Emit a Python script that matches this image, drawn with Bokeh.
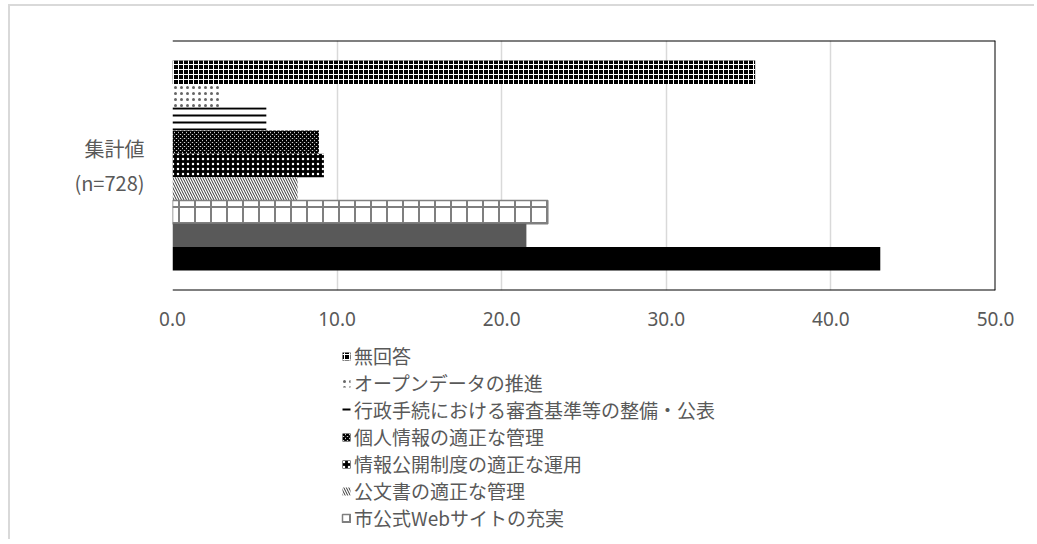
from bokeh.plotting import figure
from bokeh.layouts import column
from bokeh.models import Range1d, FixedTicker, Legend, LegendItem, Span, ColumnDataSource, CustomJSTickFormatter
from bokeh.embed import file_html
from bokeh.resources import INLINE

category_label = "集計値\n(n=728)"
series_names = ["無回答", "オープンデータの推進", "行政手続における審査基準等の整備・公表",
                "個人情報の適正な管理", "情報公開制度の適正な運用", "公文書の適正な管理",
                "市公式Webサイトの充実", "", ""]
values = [35.4, 3.0, 5.7, 8.9, 9.2, 7.6, 22.8, 21.5, 43.0]
x_ticks = [0, 10, 20, 30, 40, 50]

styles = [
    dict(fill_color="black", hatch_pattern="cross", hatch_color="white", hatch_scale=5, hatch_weight=1, line_color=None),
    dict(fill_color="white", hatch_pattern="dot", hatch_color="black", hatch_scale=6, hatch_weight=1, hatch_alpha=0.6, line_color=None),
    dict(fill_color="white", hatch_pattern="horizontal_line", hatch_color="black", hatch_scale=7, hatch_weight=2, line_color=None),
    dict(fill_color="white", hatch_pattern="diagonal_cross", hatch_color="black", hatch_scale=4, hatch_weight=2, line_color=None),
    dict(fill_color="black", hatch_pattern="dot", hatch_color="white", hatch_scale=5, hatch_weight=1, line_color=None),
    dict(fill_color="white", hatch_pattern="left_diagonal_line", hatch_color="#333333", hatch_scale=5, hatch_weight=1, line_color=None),
    dict(fill_color="white", hatch_pattern="cross", hatch_color="#7f7f7f", hatch_scale=16, hatch_weight=2, line_color="#7f7f7f", line_width=1.5),
    dict(fill_color="#595959", line_color=None),
    dict(fill_color="black", line_color=None),
]

n = len(values)
pad = 0.86
p = figure(width=1024, height=329, output_backend="svg", toolbar_location=None,
           x_range=Range1d(0, 50), y_range=Range1d(n - 0.5 + pad, -0.5 - pad),
           min_border_left=162, min_border_right=39, min_border_top=34, min_border_bottom=45)
p.background_fill_color = "white"
p.border_fill_color = "white"
p.outline_line_color = None

for i, (v, st) in enumerate(zip(values, styles)):
    src = ColumnDataSource(dict(y=[i], right=[v]))
    p.hbar(y="y", left=0, right="right", height=1.0, source=src, **st)

p.xaxis.ticker = FixedTicker(ticks=x_ticks)
p.xaxis.formatter = CustomJSTickFormatter(code="return tick.toFixed(1);")
p.xaxis.axis_line_color = None
p.xaxis.major_tick_line_color = None
p.xaxis.minor_tick_line_color = None
p.xaxis.major_label_text_font = "Noto Sans"
p.xaxis.major_label_text_font_size = "19px"
p.xaxis.major_label_text_color = "#595959"
p.xaxis.major_label_standoff = 15

mid = (n - 1) / 2
p.yaxis.ticker = FixedTicker(ticks=[mid])
p.yaxis.major_label_overrides = {mid: category_label}
p.yaxis.axis_line_color = None
p.yaxis.major_tick_line_color = None
p.yaxis.minor_tick_line_color = None
p.yaxis.major_label_text_font = "Noto Sans CJK JP"
p.yaxis.major_label_text_font_size = "20px"
p.yaxis.major_label_text_color = "#595959"
p.yaxis.major_label_text_align = "center"
p.yaxis.major_label_standoff = 22

p.xgrid.ticker = FixedTicker(ticks=x_ticks)
p.xgrid.grid_line_color = "#d9d9d9"
p.xgrid.grid_line_width = 1.5
p.ygrid.grid_line_color = None

p.add_layout(Span(location=50, dimension="height", line_color="black", line_width=2))
p.add_layout(Span(location=n - 0.5 + pad, dimension="width", line_color="black", line_width=2))
p.add_layout(Span(location=-0.5 - pad, dimension="width", line_color="black", line_width=2))

# legend panel: swatch renderers share the bar styles; their bars have zero size
q = figure(width=1024, height=204, output_backend="svg", toolbar_location=None,
           x_range=Range1d(0, 1), y_range=Range1d(0, 1), x_axis_type=None, y_axis_type=None,
           min_border_left=0, min_border_right=0, min_border_top=0, min_border_bottom=0)
q.outline_line_color = None
q.background_fill_color = "white"
q.border_fill_color = "white"
q.grid.visible = False
legend_renderers = []
for st in styles[:7]:
    legend_renderers.append(q.hbar(y=[0.5], left=[0], right=[0], height=0.0, **st))

items = [LegendItem(label=series_names[i], renderers=[legend_renderers[i]]) for i in range(7)]
legend = Legend(items=items, location=(169, 8), orientation="vertical")
legend.background_fill_alpha = 0
legend.border_line_color = None
legend.label_text_font = "Noto Sans CJK JP"
legend.label_text_font_size = "19px"
legend.label_text_color = "#595959"
legend.glyph_width = 10
legend.glyph_height = 10
legend.label_height = 27
legend.label_standoff = 3
legend.spacing = 0
legend.padding = 0
legend.margin = 0
q.add_layout(legend, "center")

layout = column(p, q, spacing=0)
layout.styles = {"margin-left": "8px", "margin-top": "4px",
                 "border-left": "2px solid #d9d9d9", "border-top": "2px solid #d9d9d9"}

open("out.html", "w").write(file_html(layout, INLINE))
